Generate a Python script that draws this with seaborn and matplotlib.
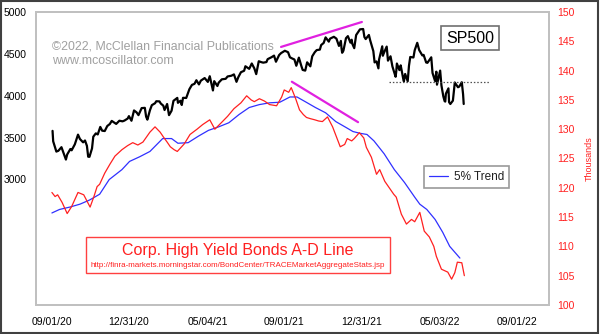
import matplotlib
matplotlib.use("Agg")
import matplotlib.pyplot as plt
from matplotlib.patches import Rectangle
import pandas as pd
import seaborn as sns

# S&P 500 closes (left axis)
spx_dates = [
    "2020-09-02", "2020-09-03", "2020-09-08", "2020-09-10", "2020-09-11", "2020-09-16",
    "2020-09-21", "2020-09-23", "2020-09-25", "2020-09-30", "2020-10-02", "2020-10-07",
    "2020-10-12", "2020-10-15", "2020-10-20", "2020-10-23", "2020-10-26", "2020-10-28",
    "2020-10-30", "2020-11-03", "2020-11-05", "2020-11-09", "2020-11-12", "2020-11-16",
    "2020-11-19", "2020-11-23", "2020-11-27", "2020-12-01", "2020-12-04", "2020-12-09",
    "2020-12-11", "2020-12-16", "2020-12-21", "2020-12-24", "2020-12-29", "2020-12-31",
    "2021-01-04", "2021-01-08", "2021-01-12", "2021-01-15", "2021-01-20", "2021-01-25",
    "2021-01-27", "2021-01-29", "2021-02-02", "2021-02-05", "2021-02-10", "2021-02-12",
    "2021-02-17", "2021-02-19", "2021-02-23", "2021-02-25", "2021-03-01", "2021-03-04",
    "2021-03-08", "2021-03-11", "2021-03-17", "2021-03-18", "2021-03-22", "2021-03-24",
    "2021-03-26", "2021-03-31", "2021-04-05", "2021-04-09", "2021-04-13", "2021-04-16",
    "2021-04-20", "2021-04-23", "2021-04-29", "2021-05-04", "2021-05-07", "2021-05-12",
    "2021-05-14", "2021-05-19", "2021-05-21", "2021-05-26", "2021-06-01", "2021-06-04",
    "2021-06-10", "2021-06-14", "2021-06-18", "2021-06-21", "2021-06-25", "2021-06-30",
    "2021-07-02", "2021-07-08", "2021-07-12", "2021-07-16", "2021-07-19", "2021-07-23",
    "2021-07-27", "2021-07-30", "2021-08-04", "2021-08-06", "2021-08-12", "2021-08-16",
    "2021-08-19", "2021-08-24", "2021-08-27", "2021-09-02", "2021-09-07", "2021-09-10",
    "2021-09-14", "2021-09-17", "2021-09-20", "2021-09-24", "2021-09-28", "2021-09-30",
    "2021-10-04", "2021-10-07", "2021-10-12", "2021-10-15", "2021-10-19", "2021-10-22",
    "2021-10-27", "2021-10-29", "2021-11-02", "2021-11-05", "2021-11-10", "2021-11-12",
    "2021-11-18", "2021-11-22", "2021-11-26", "2021-11-29", "2021-11-30", "2021-12-01",
    "2021-12-03", "2021-12-07", "2021-12-10", "2021-12-14", "2021-12-16", "2021-12-17",
    "2021-12-20", "2021-12-23", "2021-12-29", "2022-01-03", "2022-01-05", "2022-01-07",
    "2022-01-12", "2022-01-14", "2022-01-19", "2022-01-21", "2022-01-24", "2022-01-27",
    "2022-01-28", "2022-02-02", "2022-02-03", "2022-02-04", "2022-02-09", "2022-02-11",
    "2022-02-15", "2022-02-18", "2022-02-23", "2022-02-24", "2022-02-25", "2022-03-01",
    "2022-03-03", "2022-03-07", "2022-03-08", "2022-03-10", "2022-03-14", "2022-03-16",
    "2022-03-18", "2022-03-23", "2022-03-25", "2022-03-29", "2022-04-01", "2022-04-06",
    "2022-04-08", "2022-04-12", "2022-04-14", "2022-04-20", "2022-04-22", "2022-04-26",
    "2022-04-28", "2022-04-29", "2022-05-04", "2022-05-06", "2022-05-09", "2022-05-11",
    "2022-05-12", "2022-05-13", "2022-05-17", "2022-05-18", "2022-05-20", "2022-05-24",
    "2022-05-27", "2022-06-01", "2022-06-03", "2022-06-07", "2022-06-09", "2022-06-10",
]
spx_values = [
    3580, 3455, 3332, 3339, 3341, 3385,
    3281, 3237, 3298, 3363, 3348, 3419,
    3535, 3483, 3443, 3465, 3401, 3271,
    3270, 3370, 3510, 3550, 3537, 3627,
    3582, 3578, 3638, 3662, 3699, 3673,
    3663, 3701, 3694, 3703, 3727, 3756,
    3701, 3824, 3801, 3768, 3852, 3855,
    3750, 3714, 3826, 3887, 3910, 3934,
    3932, 3907, 3881, 3829, 3901, 3768,
    3821, 3939, 3974, 3915, 3940, 3889,
    3975, 3973, 4078, 4129, 4142, 4185,
    4135, 4180, 4211, 4165, 4233, 4063,
    4174, 4116, 4156, 4196, 4202, 4230,
    4239, 4255, 4166, 4224, 4281, 4298,
    4352, 4321, 4385, 4327, 4258, 4412,
    4401, 4395, 4402, 4437, 4460, 4479,
    4406, 4486, 4509, 4537, 4520, 4459,
    4443, 4433, 4358, 4455, 4353, 4308,
    4300, 4399, 4351, 4471, 4520, 4545,
    4551, 4605, 4631, 4697, 4646, 4682,
    4704, 4682, 4595, 4655, 4567, 4513,
    4538, 4687, 4712, 4634, 4669, 4620,
    4568, 4725, 4793, 4797, 4701, 4677,
    4726, 4663, 4533, 4398, 4410, 4327,
    4432, 4590, 4478, 4500, 4587, 4419,
    4471, 4349, 4226, 4288, 4385, 4306,
    4363, 4201, 4171, 4260, 4173, 4358,
    4463, 4457, 4543, 4632, 4546, 4481,
    4488, 4397, 4393, 4459, 4272, 4175,
    4287, 4132, 4300, 4123, 3991, 3935,
    3930, 4024, 4088, 3923, 3901, 3941,
    4158, 4101, 4109, 4161, 4018, 3901,
]

# Corporate high-yield bond advance-decline line, thousands (right axis)
ad_dates = [
    "2020-09-01", "2020-09-06", "2020-09-10", "2020-09-17", "2020-09-25", "2020-10-02",
    "2020-10-12", "2020-10-21", "2020-10-31", "2020-11-06", "2020-11-11", "2020-11-15",
    "2020-11-23", "2020-12-01", "2020-12-09", "2020-12-20", "2020-12-29", "2021-01-06",
    "2021-01-14", "2021-01-22", "2021-02-02", "2021-02-10", "2021-02-18", "2021-02-23",
    "2021-03-01", "2021-03-06", "2021-03-12", "2021-03-17", "2021-03-28", "2021-04-06",
    "2021-04-17", "2021-04-26", "2021-05-07", "2021-05-15", "2021-05-26", "2021-06-04",
    "2021-06-14", "2021-06-25", "2021-07-04", "2021-07-11", "2021-07-16", "2021-07-24",
    "2021-08-01", "2021-08-09", "2021-08-20", "2021-08-28", "2021-09-01", "2021-09-08",
    "2021-09-12", "2021-09-19", "2021-09-25", "2021-10-01", "2021-10-06", "2021-10-12",
    "2021-10-19", "2021-10-25", "2021-10-31", "2021-11-08", "2021-11-16", "2021-11-22",
    "2021-11-28", "2021-12-05", "2021-12-09", "2021-12-16", "2021-12-20", "2021-12-28",
    "2022-01-04", "2022-01-08", "2022-01-16", "2022-01-24", "2022-01-29", "2022-02-06",
    "2022-02-13", "2022-02-20", "2022-02-24", "2022-03-04", "2022-03-12", "2022-03-20",
    "2022-03-25", "2022-04-02", "2022-04-09", "2022-04-17", "2022-04-24", "2022-04-28",
    "2022-05-06", "2022-05-16", "2022-05-22", "2022-05-27", "2022-05-31", "2022-06-07",
    "2022-06-11",
]
ad_values = [
    119.2, 118.5, 118.8, 117.5, 115.6, 116.8,
    119.2, 118.8, 116.7, 118.5, 120.2, 120.6,
    122.5, 124.0, 125.4, 126.5, 127.2, 127.7,
    127.3, 127.8, 129.5, 130.4, 129.5, 128.7,
    127.8, 127.0, 126.5, 126.2, 127.5, 129.1,
    130.0, 130.8, 131.6, 130.0, 131.2, 132.2,
    133.5, 134.5, 135.7, 135.0, 134.7, 135.2,
    134.8, 134.2, 134.0, 135.5, 136.7, 136.3,
    137.1, 135.2, 133.3, 132.5, 132.0, 131.8,
    131.6, 131.4, 131.3, 132.1, 130.4, 128.7,
    127.0, 127.4, 128.4, 128.0, 128.4, 129.4,
    128.5, 126.9, 125.2, 122.3, 123.1, 121.1,
    120.0, 118.9, 118.4, 115.5, 113.8, 114.6,
    114.2, 115.8, 112.6, 111.6, 110.0, 108.3,
    106.1, 105.6, 104.4, 105.5, 107.3, 107.2,
    105.0,
]

# 5% trend of the A-D line, thousands (right axis)
trend_dates = [
    "2020-09-01", "2020-09-13", "2020-09-29", "2020-10-15", "2020-10-30", "2020-11-15",
    "2020-11-30", "2020-12-20", "2021-01-01", "2021-01-17", "2021-02-02", "2021-02-22",
    "2021-03-08", "2021-03-18", "2021-04-03", "2021-04-19", "2021-05-05", "2021-05-21",
    "2021-06-06", "2021-06-22", "2021-07-08", "2021-07-24", "2021-08-09", "2021-08-25",
    "2021-09-10", "2021-09-21", "2021-10-04", "2021-10-20", "2021-11-05", "2021-11-21",
    "2021-12-07", "2021-12-18", "2021-12-29", "2022-01-09", "2022-01-20", "2022-02-05",
    "2022-02-21", "2022-03-09", "2022-03-25", "2022-04-02", "2022-04-13", "2022-04-26",
    "2022-05-08", "2022-05-19", "2022-06-04",
]
trend_values = [
    115.7, 116.3, 116.7, 117.2, 117.9, 118.9,
    121.4, 123.1, 124.5, 125.3, 126.2, 128.4,
    128.4, 127.6, 127.7, 128.8, 129.8, 130.4,
    131.1, 132.5, 133.7, 134.2, 134.5, 134.6,
    135.5, 135.5, 134.7, 133.7, 132.8, 131.3,
    130.3, 129.6, 129.3, 129.1, 128.0, 125.8,
    123.1, 120.9, 118.4, 117.2, 116.3, 114.6,
    112.4, 110.0, 108.0,
]

# Divergence lines and support level
spx_div_dates = ["2021-08-27", "2022-01-01"]
spx_div_values = [4583, 4881]
ad_div_dates = ["2021-09-13", "2021-12-26"]
ad_div_values = [138.1, 131.2]
support_dates = ["2022-02-13", "2022-07-21"]
support_values = [4167, 4167]

xtick_dates = ["2020-09-01", "2020-12-31", "2021-05-04", "2021-09-01",
               "2021-12-31", "2022-05-03", "2022-09-01"]
xtick_labels = ["09/01/20", "12/31/20", "05/04/21", "09/01/21",
                "12/31/21", "05/03/22", "09/01/22"]
left_ticks = [3000, 3500, 4000, 4500, 5000]
right_ticks = [100, 105, 110, 115, 120, 125, 130, 135, 140, 145, 150]

sns.set_theme(style="white")
plt.rcParams["font.family"] = ["Liberation Sans", "DejaVu Sans"]

spx = pd.DataFrame({"date": pd.to_datetime(spx_dates), "value": spx_values})
ad = pd.DataFrame({"date": pd.to_datetime(ad_dates), "value": ad_values})
trend = pd.DataFrame({"date": pd.to_datetime(trend_dates), "value": trend_values})

fig = plt.figure(figsize=(6.0, 3.34), dpi=100)
fig.patch.set_facecolor("white")
ax = fig.add_axes([0.06, 0.087, 0.855, 0.877])
ax2 = ax.twinx()

frame_color = "#c0c0c0"

sns.lineplot(data=spx, x="date", y="value", ax=ax, color="black", linewidth=1.6)
sns.lineplot(x=pd.to_datetime(spx_div_dates), y=spx_div_values, ax=ax,
             color="#e020e0", linewidth=1.6)
sns.lineplot(x=pd.to_datetime(support_dates), y=support_values, ax=ax,
             color="#505050", linewidth=0.9, linestyle=(0, (1.2, 1.5)))

sns.lineplot(data=trend, x="date", y="value", ax=ax2, color="#3030ff",
             linewidth=0.9, label="5% Trend")
sns.lineplot(data=ad, x="date", y="value", ax=ax2, color="#ff2020", linewidth=0.9)
sns.lineplot(x=pd.to_datetime(ad_div_dates), y=ad_div_values, ax=ax2,
             color="#e020e0", linewidth=1.6)

ax.set_xlim(pd.Timestamp("2020-08-07"), pd.Timestamp("2022-10-22"))
ax.set_ylim(1500, 5000)
ax2.set_ylim(100, 150)
ax.set_yticks(left_ticks)
ax.set_yticklabels([str(v) for v in left_ticks], fontsize=7.5, color="black")
ax2.set_yticks(right_ticks)
ax2.set_yticklabels([str(v) for v in right_ticks], fontsize=7.5, color="#ff2020")
ax.set_xticks(pd.to_datetime(xtick_dates))
ax.set_xticklabels(xtick_labels, fontsize=7.5, color="black")
ax.set_xlabel("")
ax.set_ylabel("")
ax2.set_xlabel("")
ax2.set_ylabel("Thousands", color="#ff2020", fontsize=6.5, labelpad=7)
ax.tick_params(axis="x", length=0, pad=9)
ax.tick_params(axis="y", length=0, pad=6.5)
ax2.tick_params(axis="y", length=0, pad=5.8)
for a in (ax, ax2):
    for s in a.spines.values():
        s.set_color(frame_color)
        s.set_linewidth(1.3)
ax.grid(False)
ax2.grid(False)

# Legend for the trend line
leg = ax2.legend(loc="center", bbox_to_anchor=(0.839, 0.437), fontsize=8.5,
                 frameon=True, fancybox=False, handlelength=1.6, handletextpad=0.5,
                 borderpad=0.45)
leg.get_frame().set_edgecolor("#808080")
leg.get_frame().set_linewidth(1.2)
for t in leg.get_texts():
    t.set_color("#202020")

# Copyright notice
ax.text(0.031, 0.882, "\u00a92022, McClellan Financial Publications",
        transform=ax.transAxes, fontsize=8.9, color="#a0a0a0", va="center", ha="left")
ax.text(0.031, 0.833, "www.mcoscillator.com",
        transform=ax.transAxes, fontsize=8.9, color="#a0a0a0", va="center", ha="left")

# Index label
ax.text(0.846, 0.911, "SP500", transform=ax.transAxes, fontsize=11.5, color="black",
        ha="center", va="center",
        bbox=dict(boxstyle="square,pad=0.3", facecolor="white", edgecolor="#707070",
                  linewidth=1.2))

# A-D line title box
ax2.add_patch(Rectangle((0.0975, 0.109), 0.5925, 0.123, transform=ax2.transAxes,
                        facecolor="white", edgecolor="#ff4040", linewidth=1.0, zorder=5))
ax2.text(0.394, 0.186, "Corp. High Yield Bonds A-D Line", transform=ax2.transAxes,
         fontsize=11.5, color="#ff2020", ha="center", va="center", zorder=6)
ax2.text(0.394, 0.134,
         "http://finra-markets.morningstar.com/BondCenter/TRACEMarketAggregateStats.jsp",
         transform=ax2.transAxes, fontsize=5.75, color="#ff2020", ha="center",
         va="center", zorder=6)

# Outer border
fig.add_artist(Rectangle((0.002, 0.003), 0.995, 0.994, transform=fig.transFigure,
                         fill=False, edgecolor="#404040", linewidth=1.5))

fig.savefig("out.png", dpi=100)
